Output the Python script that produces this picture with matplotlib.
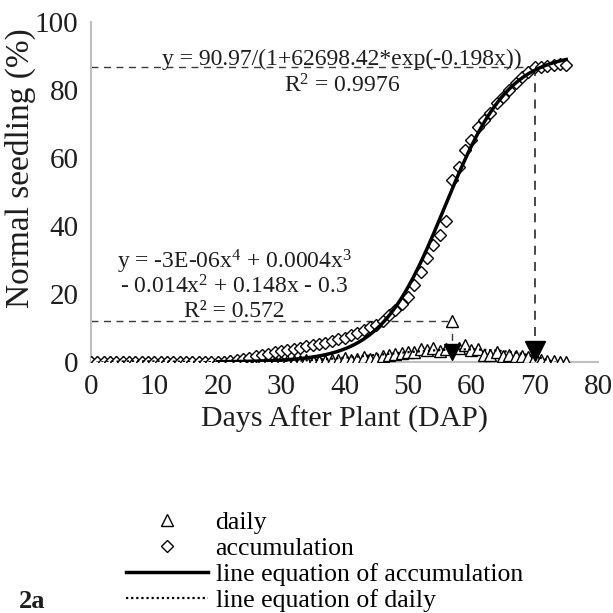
import numpy as np
import matplotlib.pyplot as plt

plt.rcParams["font.family"] = ["Liberation Serif", "DejaVu Serif"]
plt.rcParams["mathtext.fontset"] = "custom"
plt.rcParams["mathtext.rm"] = "Liberation Serif"
plt.rcParams["mathtext.it"] = "Liberation Serif:italic"

# days after plant
days = list(range(0, 76))

# accumulated normal seedling (%)
accum = [0.0] * 22 + [
    0.3, 0.6, 1.0, 1.3, 1.7, 2.0, 2.4, 2.8, 3.1, 3.4,   # 22-31
    3.8, 4.2, 4.7, 5.0, 5.3, 5.7, 6.2, 6.7, 7.2, 7.8,   # 32-41
    8.6, 9.5, 10.3, 11.0, 12.2, 13.7, 15.3, 17.0, 19.0, 22.5,  # 42-51
    26.5, 30.5, 34.5, 37.5, 41.5, 53.5, 57.4, 62.3, 65.3, 69.2,  # 52-61
    71.2, 73.2, 76.1, 78.0, 80.0, 82.0, 83.9, 85.4, 86.9, 86.8,  # 62-71
    87.2, 87.4, 87.6, 87.3,  # 72-75
]

# daily normal seedling (%)
daily = [0.0] * 22 + [
    0.3, 0.3, 0.4, 0.3, 0.4, 0.3, 0.4, 0.4, 0.3, 0.3,   # 22-31
    0.4, 0.4, 0.5, 0.3, 0.3, 0.4, 0.5, 0.5, 1.2, 0.6,   # 32-41
    0.8, 1.5, 0.8, 1.2, 1.8, 2.0, 2.2, 2.5, 2.8, 3.0,   # 42-51
    3.8, 3.5, 4.0, 3.2, 3.8, 12.0, 4.0, 5.0, 3.5, 3.9,  # 52-61
    2.0, 2.0, 2.8, 1.8, 2.0, 1.9, 1.9, 1.5, 1.5, 0.5,   # 62-71
    0.4, 0.2, 0.0, 0.0,  # 72-75
]

# logistic fit shown on the chart
a_log, b_log, k_log = 90.97, 62698.42, 0.198
peak_daily_day, peak_daily_val = 57, 12.0
max_accum_day, max_accum_val = 70, 86.8

days = np.array(days)
accum = np.array(accum)
daily = np.array(daily)

xfit = np.linspace(20, 75, 300)
yfit_acc = a_log / (1 + b_log * np.exp(-k_log * xfit))
poly = np.polyfit(days, daily, 4)
xfit_d = np.linspace(0, 75, 300)
yfit_d = np.polyval(poly, xfit_d)

fig = plt.figure(figsize=(6.13, 6.13), dpi=100)
ax = fig.add_axes([0.1485, 0.4095, 0.827, 0.5545])

txt_col = "#1e1e1e"
dash_col = "#3a3a3a"
ax.plot([0, peak_daily_day], [peak_daily_val, peak_daily_val], color=dash_col, lw=1, dashes=(5, 4), zorder=1)
ax.plot([peak_daily_day, peak_daily_day], [peak_daily_val, 3], color=dash_col, lw=1, dashes=(5, 4), zorder=1)
ax.plot([0, max_accum_day], [max_accum_val, max_accum_val], color=dash_col, lw=1, dashes=(5, 4), zorder=1)
ax.plot([max_accum_day, max_accum_day], [max_accum_val, 3], color=dash_col, lw=1.3, dashes=(5, 4), zorder=1)

h_daily, = ax.plot(days, daily, ls="none", marker="^", ms=8, mfc="white", mec="black", mew=1, label="daily", zorder=3)
h_acc, = ax.plot(days, accum, ls="none", marker="D", ms=6, mfc="white", mec="black", mew=1, label="accumulation", zorder=4)
h_lacc, = ax.plot(xfit, yfit_acc, color="black", lw=2.5, label="line equation of accumulation", zorder=5)
h_ld, = ax.plot(xfit_d, yfit_d, color="black", lw=1.6, ls=(0, (1, 1.3)), label="line equation of daily", zorder=5)

ax.plot([peak_daily_day], [2.8], marker="v", ms=11, color="black", ls="none", zorder=6)
ax.plot([max_accum_day], [3.2], marker="v", ms=14, color="black", ls="none", zorder=6)

eq_fs = 17
ax.text(39.6, 88.9, "y = 90.97/(1+62698.42*exp(-0.198x))", ha="center", va="center", fontsize=eq_fs, color=txt_col)
ax.text(39.6, 81.2, r"R$\mathregular{^2}$ = 0.9976", ha="center", va="center", fontsize=eq_fs, color=txt_col)
ax.text(22.6, 29.3, r"y = -3E-06x$\mathregular{^4}$ + 0.0004x$\mathregular{^3}$", ha="center", va="center", fontsize=eq_fs, color=txt_col)
ax.text(22.6, 22.2, r"- 0.014x$\mathregular{^2}$ + 0.148x - 0.3", ha="center", va="center", fontsize=eq_fs, color=txt_col)
ax.text(22.6, 14.8, "R² = 0.572", ha="center", va="center", fontsize=eq_fs, color=txt_col)

ax.set_xlim(0, 80)
ax.set_ylim(0, 100)
ax.set_xticks(range(0, 81, 10))
ax.set_yticks(range(0, 101, 20))
ax.tick_params(length=0, labelsize=21, colors=txt_col, pad=9)
for s in ["top", "right"]:
    ax.spines[s].set_visible(False)
for s in ["left", "bottom"]:
    ax.spines[s].set_color("#bfbfbf")
    ax.spines[s].set_linewidth(1.5)
ax.set_xlabel("Days After Plant (DAP)", fontsize=21.5, color=txt_col, labelpad=4)
ax.set_ylabel("Normal seedling (%)", fontsize=24, color=txt_col, va="center")
ax.yaxis.set_label_coords(-0.14, 0.57)

fig.legend(handles=[h_daily, h_acc, h_lacc, h_ld], loc="upper left", bbox_to_anchor=(0.205, 0.166),
           frameon=False, fontsize=18.5, handlelength=3.2, handletextpad=0.3, labelspacing=0.12,
           borderaxespad=0, borderpad=0)
fig.text(0.03, 0.008, "2a", fontsize=19, fontweight="bold", color=txt_col)

fig.savefig("out.png", dpi=100)
